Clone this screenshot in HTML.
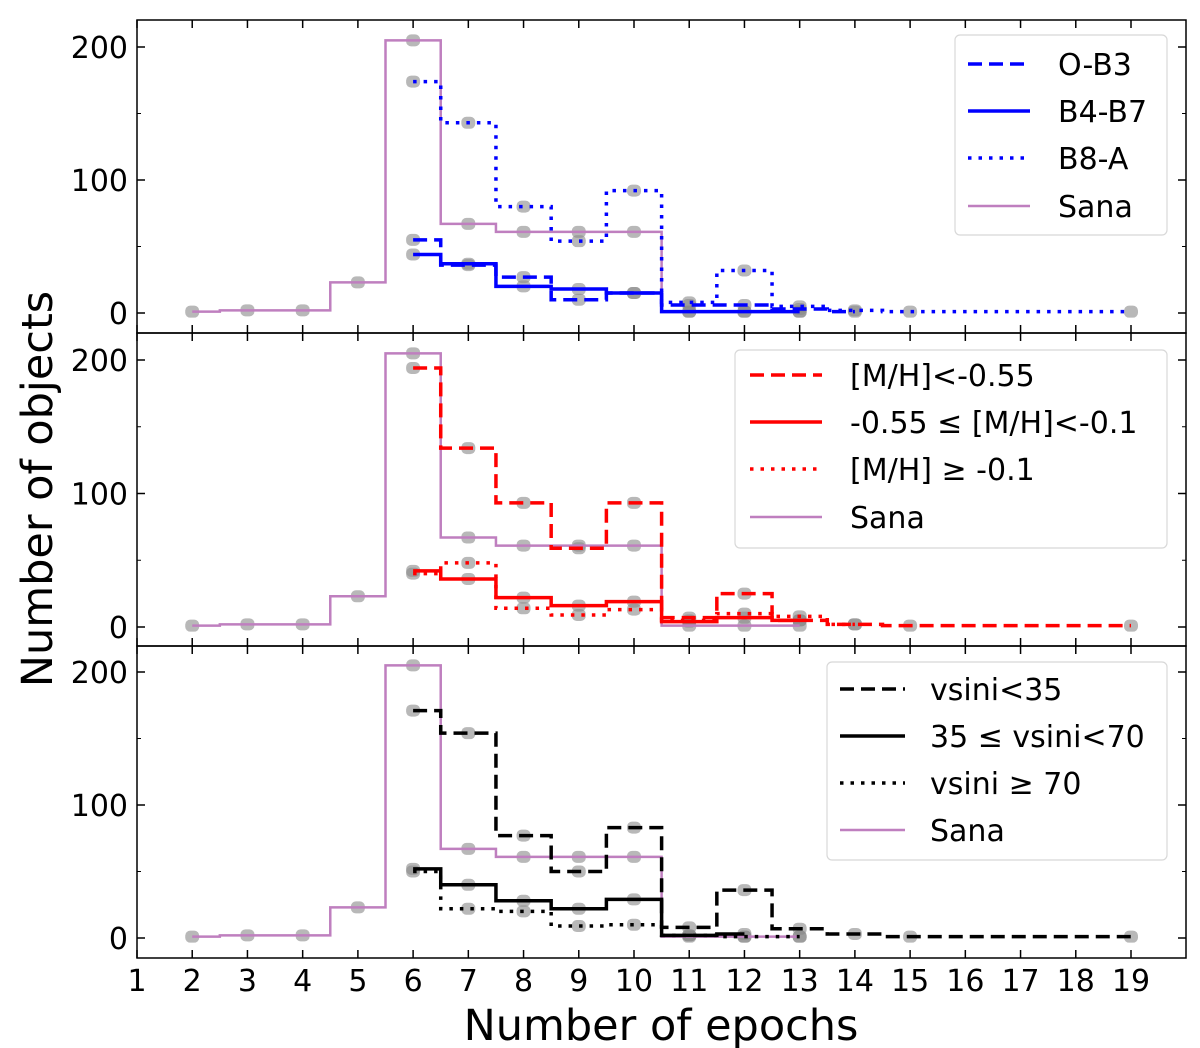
<!DOCTYPE html>
<html><head><meta charset="utf-8"><style>
body{margin:0;background:#fff}
svg{display:block;font-family:"DejaVu Sans","Liberation Sans",sans-serif}
</style></head><body>
<svg id="chart" width="1200" height="1048"></svg>
<script>
const xTicks=[1,2,3,4,5,6,7,8,9,10,11,12,13,14,15,16,17,18,19];
const yTicks=[0,100,200];
const sanaX=[2,3,4,5,6,7,8,9,10,11,12,13];
const sanaY=[1,2,2,23,205,67,61,61,61,1,1,1];
const p1DashX=[6,7,8,9,10,11,12,13,14];
const p1DashY=[55,36,27,10,15,6,6,3,1];
const p1SolidX=[6,7,8,9,10,11,12,13];
const p1SolidY=[44,37,20,18,15,1,1,1];
const p1DotX=[6,7,8,9,10,11,12,13,14,15,19];
const p1DotY=[174,143,80,54,92,8,32,5,2,1,1];
const p2DashX=[6,7,8,9,10,11,12,13,14,15,19];
const p2DashY=[194,134,93,59,93,7,25,5,2,1,1];
const p2SolidX=[6,7,8,9,10,11,12,13];
const p2SolidY=[42,36,22,16,19,4,7,5];
const p2DotX=[6,7,8,9,10,11,12,13,14];
const p2DotY=[40,48,14,9,13,5,10,8,2];
const p3DashX=[6,7,8,9,10,11,12,13,14,15,19];
const p3DashY=[171,154,77,50,83,8,36,7,3,1,1];
const p3SolidX=[6,7,8,9,10,11,12];
const p3SolidY=[52,40,28,22,29,2,3];
const p3DotX=[6,7,8,9,10,11,12,13];
const p3DotY=[50,22,20,9,10,2,1,1];

const NS="http://www.w3.org/2000/svg";
const svg=document.getElementById('chart');
function mk(tag,attrs,parent){const e=document.createElementNS(NS,tag);for(const k in attrs)e.setAttribute(k,attrs[k]);(parent||svg).appendChild(e);return e;}
const L=137,R=1186;
const xs=v=>137+(v-1)*(1131-137)/18;
const panels=[
 {top:20,bot:333,zero:313,two:47,color:'#0000ff',series:[[p1DashX,p1DashY,'dash'],[p1SolidX,p1SolidY,'solid'],[p1DotX,p1DotY,'dot']],
  legend:{x:955,y:35,w:212,h:200,lx1:968,lx2:1030,tx:1058,ys:[64,111,158,206],labels:['O-B3','B4-B7','B8-A','Sana']}},
 {top:333,bot:646,zero:627,two:360,color:'#ff0000',series:[[p2DashX,p2DashY,'dash'],[p2SolidX,p2SolidY,'solid'],[p2DotX,p2DotY,'dot']],
  legend:{x:735,y:350,w:432,h:198,lx1:750,lx2:822,tx:850,ys:[375,422,469,517],labels:['[M/H]<-0.55','-0.55 ≤ [M/H]<-0.1','[M/H] ≥ -0.1','Sana']}},
 {top:646,bot:958,zero:938,two:672,color:'#000000',series:[[p3DashX,p3DashY,'dash'],[p3SolidX,p3SolidY,'solid'],[p3DotX,p3DotY,'dot']],
  legend:{x:827,y:662,w:340,h:198,lx1:840,lx2:905,tx:930,ys:[689,736,783,830],labels:['vsini<35','35 ≤ vsini<70','vsini ≥ 70','Sana']}}
];
const dashes={dash:'14,7',solid:'',dot:'3.5,7'};
function stepPath(X,Y,ys){
  let d='';
  for(let i=0;i<X.length;i++){
    const x0=i==0?X[0]:(X[i-1]+X[i])/2, x1=i==X.length-1?X[i]:(X[i]+X[i+1])/2;
    d+=(i==0?'M':'L')+xs(x0)+','+ys(Y[i])+'L'+xs(x1)+','+ys(Y[i]);
  }
  return d;
}
panels.forEach((p,pi)=>{
  const ys=v=>p.zero-v*(p.zero-p.two)/200;
  const g=mk('g',{});
  
  
  const all=[[sanaX,sanaY]].concat(p.series.map(s=>[s[0],s[1]]));
  all.forEach(([X,Y])=>X.forEach((x,i)=>{
    const c=mk('rect',{x:xs(x)-7,y:ys(Y[i])-6,width:14,height:12,rx:5,fill:'#888','fill-opacity':0.6},g);
    
    
  }));
  const sp=mk('path',{d:stepPath(sanaX,sanaY,ys),fill:'none',stroke:'#bf7fbf','stroke-width':2.5},g);
  
  
  p.series.forEach(s=>{
    const e=mk('path',{d:stepPath(s[0],s[1],ys),fill:'none',stroke:p.color,'stroke-width':3.5,'stroke-dasharray':dashes[s[2]]},g);
    
    
  });
  const fr=mk('rect',{x:L,y:p.top,width:R-L,height:p.bot-p.top,fill:'none',stroke:'#000','stroke-width':1.5},g);
  
  
  xTicks.forEach(t=>{
    mk('line',{x1:xs(t),x2:xs(t),y1:p.bot,y2:p.bot-8,stroke:'#000','stroke-width':1.5},g);
    mk('line',{x1:xs(t),x2:xs(t),y1:p.top,y2:p.top+8,stroke:'#000','stroke-width':1.5},g);
  });
  yTicks.forEach(t=>{
    mk('line',{x1:L,x2:L+8,y1:ys(t),y2:ys(t),stroke:'#000','stroke-width':1.5},g);
    mk('line',{x1:R,x2:R-8,y1:ys(t),y2:ys(t),stroke:'#000','stroke-width':1.5},g);
    const tx=mk('text',{x:128,y:ys(t)+11,'text-anchor':'end','font-size':30},g);
    tx.textContent=t;
    
    
  });
  [50,150].forEach(t=>{
    mk('line',{x1:L,x2:L+4,y1:ys(t),y2:ys(t),stroke:'#000','stroke-width':1},g);
    mk('line',{x1:R,x2:R-4,y1:ys(t),y2:ys(t),stroke:'#000','stroke-width':1},g);
  });
  const lg=p.legend;
  const lgG=mk('g',{},g);
  
  
  mk('rect',{x:lg.x,y:lg.y,width:lg.w,height:lg.h,rx:5,fill:'#fff','fill-opacity':0.8,stroke:'#d8d8d8','stroke-width':1.2},lgG);
  lg.labels.forEach((lab,i)=>{
    const isS=i==3;
    const st=isS?'':['dash','solid','dot'][i];
    mk('line',{x1:lg.lx1,x2:lg.lx2,y1:lg.ys[i],y2:lg.ys[i],stroke:isS?'#bf7fbf':p.color,'stroke-width':isS?2.5:3.5,'stroke-dasharray':isS?'':dashes[st]},lgG);
    const t=mk('text',{x:lg.tx,y:lg.ys[i]+11,'font-size':30,textLength:null},lgG);
    t.removeAttribute('textLength');
    t.textContent=lab;
    
    
  });
});
xTicks.forEach(t=>{
  const tx=mk('text',{x:xs(t),y:991,'text-anchor':'middle','font-size':30});
  tx.textContent=t;
  
  
});
const xt=mk('text',{x:661,y:1040,'text-anchor':'middle','font-size':43});
xt.textContent='Number of epochs';


const yt=mk('text',{x:0,y:0,'text-anchor':'middle','font-size':43,transform:'translate(52,489) rotate(-90)'});
yt.textContent='Number of objects';


</script>
</body></html>
